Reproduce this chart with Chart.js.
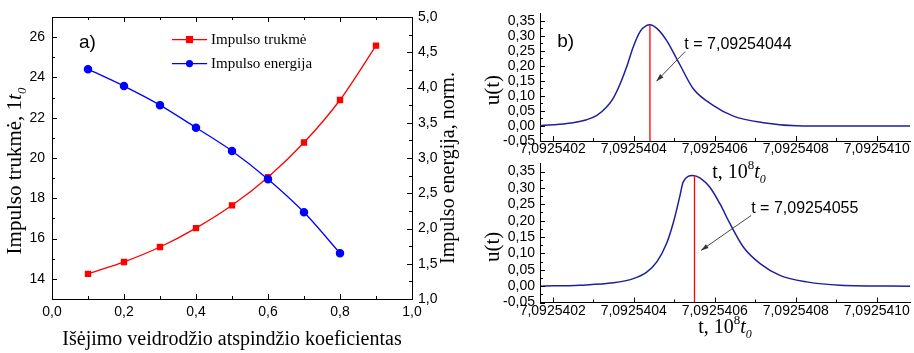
<!DOCTYPE html>
<html>
<head>
<meta charset="utf-8">
<script src="https://cdn.jsdelivr.net/npm/chart.js@4.4.0/dist/chart.umd.min.js"></script>
<style>
  html, body { margin: 0; padding: 0; background: #fff; }
  body { width: 914px; height: 353px; position: relative; overflow: hidden; }
  .box { position: absolute; }
</style>
</head>
<body>
<div class="box" style="left:0;top:0;width:470px;height:353px"><canvas id="chartA"></canvas></div>
<div class="box" style="left:460px;top:0;width:454px;height:195px"><canvas id="chartB"></canvas></div>
<div class="box" style="left:460px;top:150px;width:454px;height:203px"><canvas id="chartC"></canvas></div>
<script>
// a) pulse duration / energy vs output mirror reflectance
const reflectance = [0.1, 0.2, 0.3, 0.4, 0.5, 0.6, 0.7, 0.8, 0.9];
const pulseDuration = [14.25, 14.84, 15.58, 16.52, 17.65, 19.05, 20.77, 22.88, 25.58];
const pulseEnergy = [4.26, 4.02, 3.75, 3.43, 3.10, 2.70, 2.23, 1.65];

const xTicksA = [0, 0.2, 0.4, 0.6, 0.8, 1.0];
const xMinorA = [0.1, 0.3, 0.5, 0.7, 0.9];
const yTicksA = [14, 16, 18, 20, 22, 24, 26];
const yMinorA = [15, 17, 19, 21, 23, 25];
const y1TicksA = [1.0, 1.5, 2.0, 2.5, 3.0, 3.5, 4.0, 4.5, 5.0];
const y1MinorA = [1.25, 1.75, 2.25, 2.75, 3.25, 3.75, 4.25, 4.75];

// b) pulse shapes; time in 1e-7 steps after 7,09254 (x 10^8 t0)
const timeTop = [1.69, 2.35, 2.84, 3.09, 3.33, 3.50, 3.66, 3.83, 3.99, 4.16, 4.32, 4.40, 4.57, 4.81, 5.06, 5.14, 5.47, 5.97, 6.46, 7.20, 8.02, 8.85, 10.82];
const pulseTop = [0.001, 0.008, 0.021, 0.035, 0.063, 0.094, 0.139, 0.199, 0.264, 0.315, 0.335, 0.337, 0.325, 0.285, 0.224, 0.204, 0.124, 0.068, 0.033, 0.011, 0.001, 0, 0];
const timeBottom = [1.69, 2.67, 3.50, 3.99, 4.32, 4.57, 4.81, 4.98, 5.14, 5.22, 5.46, 5.64, 5.88, 6.13, 6.38, 6.71, 7.12, 7.61, 8.27, 9.09, 10.82];
const pulseBottom = [0, 0.003, 0.010, 0.023, 0.043, 0.074, 0.130, 0.195, 0.276, 0.318, 0.338, 0.330, 0.302, 0.251, 0.190, 0.119, 0.069, 0.033, 0.013, 0.003, 0];
const peakTop = { t: 4.4, u: 0.337, label: 't = 7,09254044' };
const peakBottom = { t: 5.5, u: 0.338, label: 't = 7,09254055' };

const tTicks = [2, 4, 6, 8, 10];
const tMinor = [3, 5, 7, 9];
const uTicks = [-0.05, 0, 0.05, 0.10, 0.15, 0.20, 0.25, 0.30, 0.35];
const uMinor = [-0.025, 0.025, 0.075, 0.125, 0.175, 0.225, 0.275, 0.325];

const SANS = '"Liberation Sans", Arial, sans-serif';
const SERIF = '"Liberation Serif", "Times New Roman", serif';
const comma = (v, d) => v.toFixed(d).replace('.', ',');
const tLabel = v => '7,09254' + String(v).padStart(2, '0');
const fixTicks = list => s => { s.ticks = list.map(v => ({ value: v })); };

function drawRich(ctx, parts, x, y, rotate) {
  ctx.save();
  ctx.translate(x, y);
  if (rotate) ctx.rotate(-Math.PI / 2);
  ctx.textBaseline = 'alphabetic';
  ctx.textAlign = 'left';
  ctx.fillStyle = '#000';
  let w = 0;
  parts.forEach(p => { ctx.font = p.font; w += ctx.measureText(p.text).width; });
  let cx = -w / 2;
  parts.forEach(p => {
    ctx.font = p.font;
    ctx.fillText(p.text, cx, p.dy || 0);
    cx += ctx.measureText(p.text).width;
  });
  ctx.restore();
}

function arrow(ctx, x1, y1, x2, y2) {
  const ang = Math.atan2(y2 - y1, x2 - x1);
  ctx.save();
  ctx.strokeStyle = '#333';
  ctx.fillStyle = '#333';
  ctx.lineWidth = 0.9;
  ctx.beginPath();
  ctx.moveTo(x1, y1);
  ctx.lineTo(x2, y2);
  ctx.stroke();
  ctx.beginPath();
  ctx.moveTo(x2, y2);
  ctx.lineTo(x2 - 8 * Math.cos(ang - 0.3), y2 - 8 * Math.sin(ang - 0.3));
  ctx.lineTo(x2 - 8 * Math.cos(ang + 0.3), y2 - 8 * Math.sin(ang + 0.3));
  ctx.closePath();
  ctx.fill();
  ctx.restore();
}

// inward tick marks + extra text drawn on top
function decor(tickSpecs, draw) {
  return {
    id: 'decor',
    afterDraw(chart) {
      const ctx = chart.ctx, a = chart.chartArea;
      ctx.save();
      ctx.strokeStyle = '#000';
      ctx.lineWidth = 1;
      tickSpecs.forEach(([id, side, values, len]) => {
        const s = chart.scales[id];
        values.forEach(v => {
          const p = Math.round(s.getPixelForValue(v)) + 0.5;
          ctx.beginPath();
          if (side === 'bottom') { ctx.moveTo(p, a.bottom); ctx.lineTo(p, a.bottom - len); }
          if (side === 'top') { ctx.moveTo(p, a.top); ctx.lineTo(p, a.top + len); }
          if (side === 'left') { ctx.moveTo(a.left, p); ctx.lineTo(a.left + len, p); }
          if (side === 'right') { ctx.moveTo(a.right, p); ctx.lineTo(a.right - len, p); }
          ctx.stroke();
        });
      });
      ctx.restore();
      draw(chart, ctx, a);
    }
  };
}

const axisBorder = { display: true, color: '#000', width: 1 };
const noGrid = { display: false, drawTicks: false };
const tickFont = { family: SANS, size: 14 };

// ---------- chart a) ----------
const legendA = [
  { label: 'Impulso trukmė', color: '#ff0000', style: 'rect', y: 25.88 },
  { label: 'Impulso energija', color: '#0000ff', style: 'circle', y: 24.69 }
];

new Chart(document.getElementById('chartA'), {
  type: 'line',
  data: {
    datasets: [{
      label: 'Impulso trukmė',
      data: reflectance.map((r, i) => ({ x: r, y: pulseDuration[i] })),
      yAxisID: 'y',
      borderColor: '#ff0000',
      backgroundColor: '#ff0000',
      borderWidth: 1.3,
      pointStyle: 'rect',
      pointRadius: 3.6,
      tension: 0.3,
      order: 1
    }, {
      label: 'Impulso energija',
      data: pulseEnergy.map((e, i) => ({ x: reflectance[i], y: e })),
      yAxisID: 'y1',
      borderColor: '#0000ff',
      backgroundColor: '#0000ff',
      borderWidth: 1.3,
      pointStyle: 'circle',
      pointRadius: 3.6,
      tension: 0.3,
      order: 0
    }]
  },
  options: {
    responsive: true,
    maintainAspectRatio: false,
    animation: false,
    layout: { autoPadding: false, padding: { top: 17, left: 0, right: 0, bottom: 0 } },
    plugins: { legend: { display: false }, tooltip: { enabled: false } },
    scales: {
      x: {
        type: 'linear', position: 'bottom', min: 0, max: 1,
        afterBuildTicks: fixTicks(xTicksA),
        afterFit: s => { s.height = 54; },
        grid: noGrid, border: axisBorder,
        ticks: { padding: 5, font: tickFont, color: '#000', maxRotation: 0, autoSkip: false, callback: v => comma(v, 1) }
      },
      xTop: {
        type: 'linear', position: 'top', min: 0, max: 1,
        afterFit: s => { s.height = 0; },
        grid: noGrid, border: axisBorder, ticks: { display: false }
      },
      y: {
        type: 'linear', position: 'left', min: 13, max: 27,
        afterBuildTicks: fixTicks(yTicksA),
        afterFit: s => { s.width = 52; },
        grid: noGrid, border: axisBorder,
        ticks: { padding: 7, font: tickFont, color: '#000', autoSkip: false }
      },
      y1: {
        type: 'linear', position: 'right', min: 1, max: 5,
        afterBuildTicks: fixTicks(y1TicksA),
        afterFit: s => { s.width = 58; },
        grid: noGrid, border: axisBorder,
        ticks: { padding: 6, font: tickFont, color: '#000', autoSkip: false, callback: v => comma(v, 1) }
      }
    }
  },
  plugins: [decor([
    ['x', 'bottom', xTicksA, 5], ['x', 'bottom', xMinorA, 3],
    ['x', 'top', xTicksA, 5], ['x', 'top', xMinorA, 3],
    ['y', 'left', yTicksA, 5], ['y', 'left', yMinorA, 3],
    ['y1', 'right', y1TicksA, 5], ['y1', 'right', y1MinorA, 3]
  ], (chart, ctx, a) => {
    const sx = chart.scales.x, sy = chart.scales.y;
    // panel label
    ctx.save();
    ctx.fillStyle = '#000';
    ctx.font = '19px ' + SANS;
    ctx.textBaseline = 'middle';
    ctx.fillText('a)', sx.getPixelForValue(0.075), sy.getPixelForValue(25.7));
    // legend
    legendA.forEach(it => {
      const y = sy.getPixelForValue(it.y);
      const x1 = sx.getPixelForValue(0.333), x2 = sx.getPixelForValue(0.431);
      ctx.strokeStyle = it.color; ctx.fillStyle = it.color; ctx.lineWidth = 1.3;
      ctx.beginPath(); ctx.moveTo(x1, y); ctx.lineTo(x2, y); ctx.stroke();
      const mx = (x1 + x2) / 2;
      ctx.beginPath();
      if (it.style === 'rect') ctx.rect(mx - 3.6, y - 3.6, 7.2, 7.2);
      else ctx.arc(mx, y, 3.6, 0, Math.PI * 2);
      ctx.fill();
      ctx.fillStyle = '#000';
      ctx.font = '15px ' + SERIF;
      ctx.fillText(it.label, sx.getPixelForValue(0.442), y + 1);
    });
    ctx.restore();
    // axis titles
    const midY = (a.top + a.bottom) / 2;
    drawRich(ctx, [{ text: 'Išėjimo veidrodžio atspindžio koeficientas', font: '20px ' + SERIF }], (a.left + a.right) / 2, a.bottom + 46);
    drawRich(ctx, [
      { text: 'Impulso trukmė, 1', font: '21px ' + SERIF },
      { text: 't', font: 'italic 21px ' + SERIF },
      { text: '0', font: 'italic 13px ' + SERIF, dy: 5 }
    ], 21, midY + 13, true);
    drawRich(ctx, [{ text: 'Impulso energija, norm.', font: '20px ' + SERIF }], 454, midY + 10, true);
  })]
});

// ---------- chart b) ----------
function pulseChart(id, time, pulse, peak, opts) {
  new Chart(document.getElementById(id), {
    type: 'line',
    data: {
      datasets: [{
        data: [{ x: peak.t, y: -0.05 }, { x: peak.t, y: peak.u }],
        borderColor: '#ff0000',
        borderWidth: 1.3,
        pointRadius: 0,
        order: 0
      }, {
        data: time.map((t, i) => ({ x: t, y: pulse[i] })),
        borderColor: '#1f1f99',
        borderWidth: 1.5,
        pointRadius: 0,
        cubicInterpolationMode: 'monotone',
        order: 1
      }]
    },
    options: {
      responsive: true,
      maintainAspectRatio: false,
      animation: false,
      layout: { autoPadding: false, padding: { top: opts.top, left: 0, right: 4, bottom: 0 } },
      plugins: { legend: { display: false }, tooltip: { enabled: false } },
      scales: {
        x: {
          type: 'linear', position: 'bottom', min: 1.686, max: 10.82,
          afterBuildTicks: fixTicks(tTicks),
          afterFit: s => { s.height = opts.xh; },
          grid: noGrid, border: axisBorder,
          ticks: { padding: 0, font: tickFont, color: '#000', maxRotation: 0, autoSkip: false, callback: tLabel }
        },
        y: {
          type: 'linear', position: 'left', min: -0.05, max: 0.375,
          afterBuildTicks: fixTicks(uTicks),
          afterFit: s => { s.width = 80; },
          grid: noGrid, border: axisBorder,
          ticks: { padding: 5, font: tickFont, color: '#000', autoSkip: false, callback: v => comma(v, 2) }
        }
      }
    },
    plugins: [decor([
      ['x', 'bottom', tTicks, 5], ['x', 'bottom', tMinor, 3],
      ['y', 'left', uTicks, 5], ['y', 'left', uMinor, 3]
    ], (chart, ctx, a) => {
      const sx = chart.scales.x, sy = chart.scales.y;
      ctx.save();
      ctx.fillStyle = '#000';
      ctx.textBaseline = 'middle';
      if (opts.panel) {
        ctx.font = '19px ' + SANS;
        ctx.fillText(opts.panel, sx.getPixelForValue(2.11), sy.getPixelForValue(0.279));
      }
      ctx.font = '16px ' + SANS;
      const n = opts.note;
      ctx.fillText(peak.label, sx.getPixelForValue(n.tx), sy.getPixelForValue(n.ty));
      ctx.restore();
      arrow(ctx, sx.getPixelForValue(n.x1), sy.getPixelForValue(n.y1), sx.getPixelForValue(n.x2), sy.getPixelForValue(n.y2));
      drawRich(ctx, [{ text: 'u(t)', font: '21px ' + SERIF }], a.left - 41, (a.top + a.bottom) / 2 + opts.uShift, true);
      drawRich(ctx, [
        { text: 't, 10', font: '20px ' + SERIF },
        { text: '8', font: '13px ' + SERIF, dy: -9 },
        { text: 't', font: 'italic 20px ' + SERIF },
        { text: '0', font: 'italic 12px ' + SERIF, dy: 5 }
      ], (a.left + a.right) / 2 + opts.titleDx, a.bottom + opts.titleDy);
    })]
  });
}

pulseChart('chartB', timeTop, pulseTop, peakTop, {
  top: 0, xh: 54, panel: 'b)', uShift: 13, titleDx: 14, titleDy: 37,
  note: { tx: 5.25, ty: 0.27, x1: 5.27, y1: 0.248, x2: 4.56, y2: 0.149 }
});
pulseChart('chartC', timeBottom, pulseBottom, peakBottom, {
  top: 12.5, xh: 50.5, panel: null, uShift: 14, titleDx: 0, titleDy: 30,
  note: { tx: 6.90, ty: 0.237, x1: 6.90, y1: 0.216, x2: 5.66, y2: 0.109 }
});
</script>
</body>
</html>
